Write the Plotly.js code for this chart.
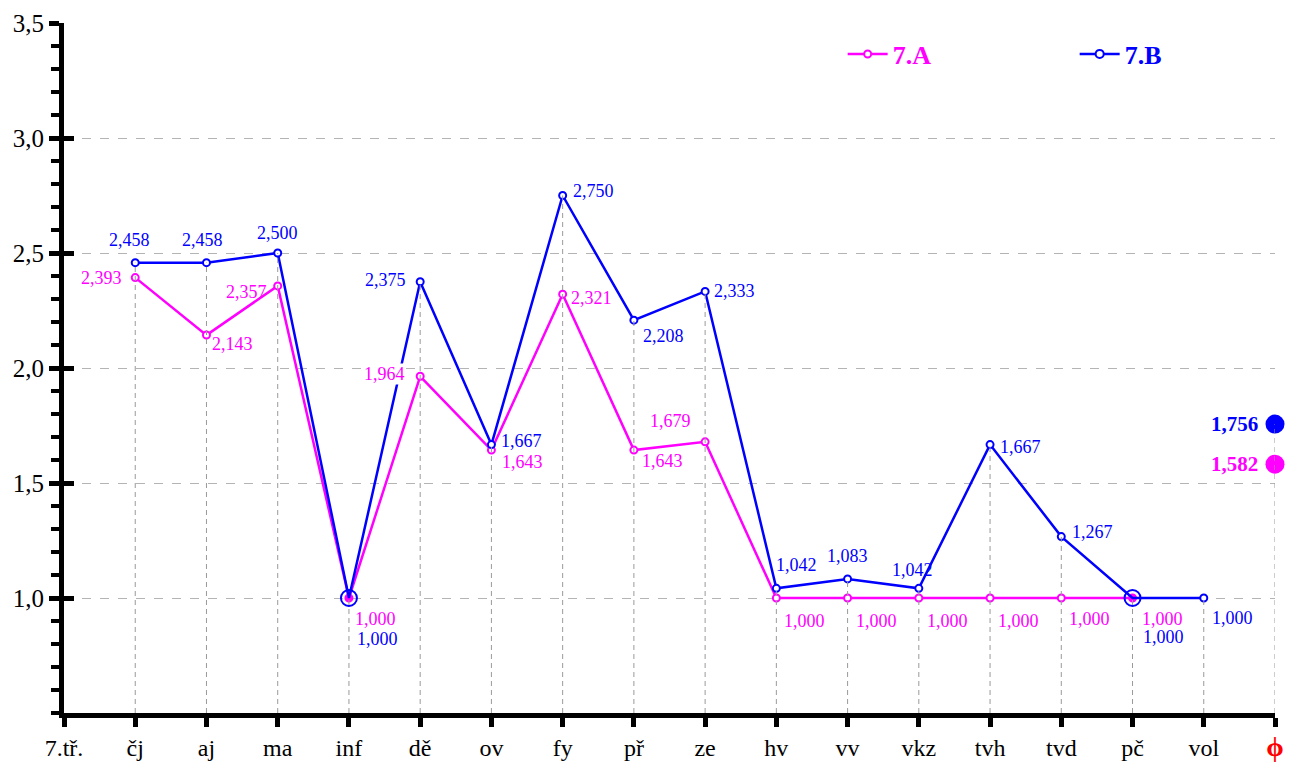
<!DOCTYPE html>
<html>
<head>
<meta charset="utf-8">
<script src="https://cdn.plot.ly/plotly-3.0.1.min.js"></script>
<style>html,body{margin:0;padding:0;background:#fff;}#chart{width:1294px;height:762px;}</style>
</head>
<body>
<div id="chart"></div>
<script>
// ---- data ----
const categories = ['7.tř.','čj','aj','ma','inf','dě','ov','fy','př','ze','hv','vv','vkz','tvh','tvd','pč','vol','ϕ'];
const subjects = ['čj','aj','ma','inf','dě','ov','fy','př','ze','hv','vv','vkz','tvh','tvd','pč','vol'];
const valuesA = [2.393,2.143,2.357,1.000,1.964,1.643,2.321,1.643,1.679,1.000,1.000,1.000,1.000,1.000,1.000,null];
const valuesB = [2.458,2.458,2.500,1.000,2.375,1.667,2.750,2.208,2.333,1.042,1.083,1.042,1.667,1.267,1.000,1.000];
const avgCategory = 'ϕ';
const avgA = 1.582;
const avgB = 1.756;
const seriesNames = ['7.A','7.B'];
const yTickVals = [1.0,1.5,2.0,2.5,3.0,3.5];

// ---- styles ----
const colA = '#ff00ff', colB = '#0000ff';
const FONT = 'Liberation Serif, Times New Roman, serif';
// label placement per point: [xanchor, xshift, yshift, whiteBackground]
const posA = [['right',-12,0],['left',5,-9],['right',-10,-6],['left',5,-21],['right',-14,2,true],['left',10,-12],
  ['left',7,-4],['left',7,-11],['right',-13,21],['left',7,-23],['left',7,-23],['left',7,-23],['left',7,-23],
  ['left',7,-21],['left',8,-21],null];
const posB = [['center',-6,23],['center',-4,23],['center',0,20],['left',6,-41],['right',-12,2],['left',8,4],
  ['left',8,5],['left',7,-16],['left',7,0],['left',-2,23],['center',0,23],['center',-6,18],['left',8,-2],
  ['left',9,5],['left',8,-39],['left',6,-20]];

const fmt = v => v.toFixed(3).replace('.', ',');

// drop lines from axis to highest point
const dropX = [], dropY = [];
subjects.forEach((s, i) => {
  const vals = [valuesA[i], valuesB[i]].filter(v => v !== null);
  dropX.push(s, s, null); dropY.push(0.5, Math.max(...vals), null);
});
dropX.push(avgCategory, avgCategory); dropY.push(0.5, Math.max(avgA, avgB));

const same = subjects.map((s, i) => valuesA[i] !== null && valuesA[i] === valuesB[i]);

const traces = [
  {x: dropX, y: dropY, yaxis: 'y2', mode: 'lines', line: {color: '#9a9a9a', width: 1, dash: '5px,4px'},
   hoverinfo: 'skip', showlegend: false},
  {x: subjects, y: valuesA, mode: 'lines+markers', name: "<span style='color:" + colA + "'><b>" + seriesNames[0] + "</b></span>",
   line: {color: colA, width: 2.5},
   marker: {symbol: 'circle', size: 7, opacity: 1, color: same.map(s => s ? colA : '#ffffff'), line: {color: colA, width: 2}},
   cliponaxis: false, legendrank: 1},
  {x: subjects, y: valuesB, mode: 'lines+markers', name: "<span style='color:" + colB + "'><b>" + seriesNames[1] + "</b></span>",
   line: {color: colB, width: 2.5},
   marker: {symbol: 'circle', size: same.map(s => s ? 16 : 7), opacity: 1, color: same.map(s => s ? 'rgba(255,255,255,0)' : '#ffffff'),
            line: {color: colB, width: 2}},
   cliponaxis: false, legendrank: 2},
  {x: [avgCategory], y: [avgA], mode: 'markers', marker: {size: 19, color: colA}, showlegend: false, cliponaxis: false},
  {x: [avgCategory], y: [avgB], mode: 'markers', marker: {size: 19, color: colB}, showlegend: false, cliponaxis: false}
];

const annotations = [];
subjects.forEach((s, i) => {
  if (valuesA[i] !== null && posA[i]) {
    const p = posA[i];
    annotations.push({x: s, y: valuesA[i], text: fmt(valuesA[i]), showarrow: false, xanchor: p[0], yanchor: 'middle',
      xshift: p[1], yshift: p[2], bgcolor: p[3] ? '#ffffff' : 'rgba(0,0,0,0)', borderpad: 0,
      font: {family: FONT, size: 18, color: colA}});
  }
  const q = posB[i];
  annotations.push({x: s, y: valuesB[i], text: fmt(valuesB[i]), showarrow: false, xanchor: q[0], yanchor: 'middle',
    xshift: q[1], yshift: q[2], font: {family: FONT, size: 18, color: colB}});
});
annotations.push({x: avgCategory, y: avgB, text: '<b>' + fmt(avgB) + '</b>', showarrow: false, xanchor: 'right', yanchor: 'middle',
  xshift: -15, yshift: 0, font: {family: FONT, size: 21, color: colB}});
annotations.push({x: avgCategory, y: avgA, text: '<b>' + fmt(avgA) + '</b>', showarrow: false, xanchor: 'right', yanchor: 'middle',
  xshift: -15, yshift: 0, font: {family: FONT, size: 21, color: colA}});

const tickText = categories.map(c => c === avgCategory ? "<span style='color:#ff0000;font-size:28px'><b>" + c + "</b></span>" : c);

const layout = {
  width: 1294, height: 762,
  margin: {l: 64, r: 19, t: 23, b: 49, autoexpand: false},
  paper_bgcolor: '#ffffff', plot_bgcolor: '#ffffff',
  separators: ', ',
  showlegend: true,
  legend: {orientation: 'h', x: 0.643, y: 0.955, xanchor: 'left', yanchor: 'middle', entrywidth: 177,
           font: {family: FONT, size: 26}, bgcolor: 'rgba(0,0,0,0)', itemwidth: 40},
  xaxis: {type: 'category', categoryorder: 'array', categoryarray: categories, range: [0, 17],
          tickvals: categories, ticktext: tickText,
          showline: true, linewidth: 5, linecolor: '#000', ticks: 'outside', ticklen: 9, tickwidth: 5, tickcolor: '#000',
          showgrid: false, zeroline: false, tickfont: {family: FONT, size: 24, color: '#000'}},
  yaxis: {range: [0.5, 3.5], tickvals: yTickVals, tickformat: '.1f',
          showline: true, linewidth: 5, linecolor: '#000', ticks: 'outside', ticklen: 10, tickwidth: 5, tickcolor: '#000',
          showgrid: true, gridcolor: '#b4b4b4', gridwidth: 1, griddash: 'dash', zeroline: false,
          tickfont: {family: FONT, size: 25, color: '#000'},
          minor: {tick0: 0.5, dtick: 0.1, ticks: 'outside', ticklen: 8, tickwidth: 4, tickcolor: '#000', showgrid: false}},
  yaxis2: {overlaying: 'y', range: [0.5, 3.5], tickvals: yTickVals, ticks: 'inside', ticklen: 10, tickwidth: 5, tickcolor: '#000',
           showticklabels: false, showgrid: false, showline: false, zeroline: false},
  annotations: annotations
};

Plotly.newPlot('chart', traces, layout, {displayModeBar: false, staticPlot: true});
</script>
</body>
</html>
